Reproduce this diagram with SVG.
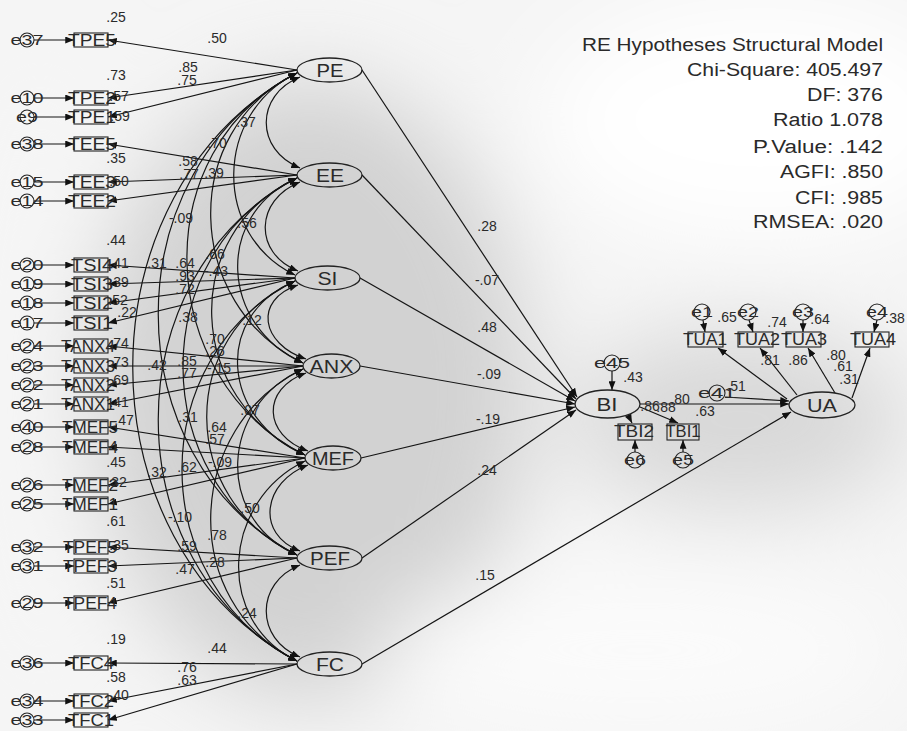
<svg xmlns="http://www.w3.org/2000/svg" width="907" height="731" viewBox="0 0 907 731">
<defs>
<marker id="ah" viewBox="0 0 10 8" refX="10" refY="4" markerWidth="9" markerHeight="7" markerUnits="userSpaceOnUse" orient="auto-start-reverse"><path d="M0,0 L10,4 L0,8 z" fill="#111"/></marker>
<filter id="blur" x="-50%" y="-50%" width="200%" height="200%"><feGaussianBlur stdDeviation="45"/></filter>
<style>
.ln{stroke:#151515;stroke-width:1.2;fill:none}
.arr{marker-end:url(#ah)}
.cov{marker-start:url(#ah);marker-end:url(#ah)}
.box{fill:none;stroke:#222;stroke-width:1.1}
.lat{fill:none;stroke:#222;stroke-width:1.3}
.err{fill:none;stroke:#222;stroke-width:1.1}
text{font-family:"Liberation Sans",Arial,sans-serif;fill:#2a2a2a}
.n{font-size:14px;text-anchor:middle}
.bl{font-size:16px;text-anchor:middle}
.el{font-size:15px;text-anchor:middle}
.lt{font-size:18px;text-anchor:middle}
.st{font-size:18px}
</style>
</defs>
<rect width="907" height="731" fill="#f5f5f5"/>
<g filter="url(#blur)">
<ellipse cx="310" cy="390" rx="220" ry="310" fill="#d2d2d2"/>
<ellipse cx="740" cy="420" rx="170" ry="90" fill="#d8d8d8"/>
<ellipse cx="760" cy="120" rx="220" ry="120" fill="#ffffff"/>
<ellipse cx="640" cy="650" rx="260" ry="80" fill="#fbfbfb"/>
<ellipse cx="40" cy="380" rx="40" ry="330" fill="#f6f6f6"/>
</g>

<g id="connectors">
<line class="ln arr" x1="34" y1="40" x2="74" y2="40"/>
<line class="ln arr" x1="34" y1="98" x2="74" y2="98"/>
<line class="ln arr" x1="34" y1="117" x2="74" y2="117"/>
<line class="ln arr" x1="34" y1="144" x2="74" y2="144"/>
<line class="ln arr" x1="34" y1="182" x2="74" y2="182"/>
<line class="ln arr" x1="34" y1="201" x2="74" y2="201"/>
<line class="ln arr" x1="34" y1="265" x2="74" y2="265"/>
<line class="ln arr" x1="34" y1="284" x2="74" y2="284"/>
<line class="ln arr" x1="34" y1="303" x2="74" y2="303"/>
<line class="ln arr" x1="34" y1="323" x2="74" y2="323"/>
<line class="ln arr" x1="34" y1="346" x2="74" y2="346"/>
<line class="ln arr" x1="34" y1="366" x2="74" y2="366"/>
<line class="ln arr" x1="34" y1="385" x2="74" y2="385"/>
<line class="ln arr" x1="34" y1="404" x2="74" y2="404"/>
<line class="ln arr" x1="34" y1="427" x2="74" y2="427"/>
<line class="ln arr" x1="34" y1="447" x2="74" y2="447"/>
<line class="ln arr" x1="34" y1="485" x2="74" y2="485"/>
<line class="ln arr" x1="34" y1="504" x2="74" y2="504"/>
<line class="ln arr" x1="34" y1="547" x2="74" y2="547"/>
<line class="ln arr" x1="34" y1="566" x2="74" y2="566"/>
<line class="ln arr" x1="34" y1="603" x2="74" y2="603"/>
<line class="ln arr" x1="34" y1="663" x2="74" y2="663"/>
<line class="ln arr" x1="34" y1="701" x2="74" y2="701"/>
<line class="ln arr" x1="34" y1="720" x2="74" y2="720"/>
<line class="ln arr" x1="297" y1="70" x2="108" y2="40"/>
<line class="ln arr" x1="297" y1="70" x2="108" y2="98"/>
<line class="ln arr" x1="297" y1="70" x2="108" y2="117"/>
<line class="ln arr" x1="297" y1="175" x2="108" y2="144"/>
<line class="ln arr" x1="297" y1="175" x2="108" y2="182"/>
<line class="ln arr" x1="297" y1="175" x2="108" y2="201"/>
<line class="ln arr" x1="295" y1="278" x2="108" y2="265"/>
<line class="ln arr" x1="295" y1="278" x2="108" y2="284"/>
<line class="ln arr" x1="295" y1="278" x2="108" y2="303"/>
<line class="ln arr" x1="295" y1="278" x2="108" y2="323"/>
<line class="ln arr" x1="303" y1="366" x2="108" y2="346"/>
<line class="ln arr" x1="303" y1="366" x2="108" y2="366"/>
<line class="ln arr" x1="303" y1="366" x2="108" y2="385"/>
<line class="ln arr" x1="303" y1="366" x2="108" y2="404"/>
<line class="ln arr" x1="305" y1="458" x2="108" y2="427"/>
<line class="ln arr" x1="305" y1="458" x2="108" y2="447"/>
<line class="ln arr" x1="305" y1="458" x2="108" y2="485"/>
<line class="ln arr" x1="305" y1="458" x2="108" y2="504"/>
<line class="ln arr" x1="297" y1="558" x2="108" y2="547"/>
<line class="ln arr" x1="297" y1="558" x2="108" y2="566"/>
<line class="ln arr" x1="297" y1="558" x2="108" y2="603"/>
<line class="ln arr" x1="297" y1="664" x2="108" y2="663"/>
<line class="ln arr" x1="297" y1="664" x2="108" y2="701"/>
<line class="ln arr" x1="297" y1="664" x2="108" y2="720"/>
<path class="ln cov" d="M300,77 C255,95 255,150 300,168"/>
<path class="ln cov" d="M300,182 C255,200 253,253 298,271"/>
<path class="ln cov" d="M298,285 C253,300 261,344 306,359"/>
<path class="ln cov" d="M306,373 C261,389 263,435 308,451"/>
<path class="ln cov" d="M308,465 C263,482 255,534 300,551"/>
<path class="ln cov" d="M300,565 C255,583 255,639 300,657"/>
<path class="ln cov" d="M297,73 C214,113 212,235 295,275"/>
<path class="ln cov" d="M297,178 C214,215 220,326 303,363"/>
<path class="ln cov" d="M295,281 C212,316 222,420 305,455"/>
<path class="ln cov" d="M303,369 C220,406 214,518 297,555"/>
<path class="ln cov" d="M305,461 C222,501 214,621 297,661"/>
<path class="ln cov" d="M297,73 C178,131 184,305 303,363"/>
<path class="ln cov" d="M297,178 C178,233 186,400 305,455"/>
<path class="ln cov" d="M295,281 C176,336 178,500 297,555"/>
<path class="ln cov" d="M303,369 C184,427 178,603 297,661"/>
<path class="ln cov" d="M297,73 C145,149 153,379 305,455"/>
<path class="ln cov" d="M297,178 C145,253 145,480 297,555"/>
<path class="ln cov" d="M295,281 C143,357 145,585 297,661"/>
<path class="ln cov" d="M297,73 C112,169 112,459 297,555"/>
<path class="ln cov" d="M297,178 C112,275 112,564 297,661"/>
<path class="ln cov" d="M297,73 C78,191 78,543 297,661"/>
<line class="ln arr" x1="362" y1="70" x2="577" y2="397"/>
<line class="ln arr" x1="362" y1="175" x2="576" y2="399"/>
<line class="ln arr" x1="360" y1="278" x2="575" y2="401"/>
<line class="ln arr" x1="360" y1="366" x2="575" y2="404"/>
<line class="ln arr" x1="361" y1="458" x2="575" y2="407"/>
<line class="ln arr" x1="362" y1="558" x2="576" y2="410"/>
<line class="ln arr" x1="362" y1="664" x2="791" y2="412"/>
<line class="ln arr" x1="640" y1="404" x2="789" y2="404"/>
<line class="ln arr" x1="725" y1="397" x2="789" y2="401"/>
<line class="ln arr" x1="612" y1="371" x2="612" y2="390"/>
<line class="ln arr" x1="628" y1="415" x2="632" y2="423"/>
<line class="ln arr" x1="640" y1="407" x2="678" y2="423"/>
<line class="ln arr" x1="635" y1="452" x2="635" y2="440"/>
<line class="ln arr" x1="683" y1="452" x2="683" y2="440"/>
<line class="ln arr" x1="787" y1="399" x2="718" y2="348"/>
<line class="ln arr" x1="797" y1="395" x2="760" y2="348"/>
<line class="ln arr" x1="835" y1="393" x2="808" y2="348"/>
<line class="ln arr" x1="852" y1="398" x2="870" y2="348"/>
<line class="ln arr" x1="703" y1="320" x2="705" y2="332"/>
<line class="ln arr" x1="749" y1="320" x2="753" y2="332"/>
<line class="ln arr" x1="803" y1="320" x2="803" y2="332"/>
<line class="ln arr" x1="877" y1="320" x2="874" y2="332"/>
</g>

<g id="e37"><circle class="err" cx="27" cy="40" r="7"/><text class="el" x="27" y="45" textLength="33" lengthAdjust="spacingAndGlyphs">e37</text></g>
<g id="e10"><circle class="err" cx="27" cy="98" r="7"/><text class="el" x="27" y="103" textLength="33" lengthAdjust="spacingAndGlyphs">e10</text></g>
<g id="e9"><circle class="err" cx="27" cy="117" r="7"/><text class="el" x="27" y="122" textLength="22" lengthAdjust="spacingAndGlyphs">e9</text></g>
<g id="e38"><circle class="err" cx="27" cy="144" r="7"/><text class="el" x="27" y="149" textLength="33" lengthAdjust="spacingAndGlyphs">e38</text></g>
<g id="e15"><circle class="err" cx="27" cy="182" r="7"/><text class="el" x="27" y="187" textLength="33" lengthAdjust="spacingAndGlyphs">e15</text></g>
<g id="e14"><circle class="err" cx="27" cy="201" r="7"/><text class="el" x="27" y="206" textLength="33" lengthAdjust="spacingAndGlyphs">e14</text></g>
<g id="e20"><circle class="err" cx="27" cy="265" r="7"/><text class="el" x="27" y="270" textLength="33" lengthAdjust="spacingAndGlyphs">e20</text></g>
<g id="e19"><circle class="err" cx="27" cy="284" r="7"/><text class="el" x="27" y="289" textLength="33" lengthAdjust="spacingAndGlyphs">e19</text></g>
<g id="e18"><circle class="err" cx="27" cy="303" r="7"/><text class="el" x="27" y="308" textLength="33" lengthAdjust="spacingAndGlyphs">e18</text></g>
<g id="e17"><circle class="err" cx="27" cy="323" r="7"/><text class="el" x="27" y="328" textLength="33" lengthAdjust="spacingAndGlyphs">e17</text></g>
<g id="e24"><circle class="err" cx="27" cy="346" r="7"/><text class="el" x="27" y="351" textLength="33" lengthAdjust="spacingAndGlyphs">e24</text></g>
<g id="e23"><circle class="err" cx="27" cy="366" r="7"/><text class="el" x="27" y="371" textLength="33" lengthAdjust="spacingAndGlyphs">e23</text></g>
<g id="e22"><circle class="err" cx="27" cy="385" r="7"/><text class="el" x="27" y="390" textLength="33" lengthAdjust="spacingAndGlyphs">e22</text></g>
<g id="e21"><circle class="err" cx="27" cy="404" r="7"/><text class="el" x="27" y="409" textLength="33" lengthAdjust="spacingAndGlyphs">e21</text></g>
<g id="e40"><circle class="err" cx="27" cy="427" r="7"/><text class="el" x="27" y="432" textLength="33" lengthAdjust="spacingAndGlyphs">e40</text></g>
<g id="e28"><circle class="err" cx="27" cy="447" r="7"/><text class="el" x="27" y="452" textLength="33" lengthAdjust="spacingAndGlyphs">e28</text></g>
<g id="e26"><circle class="err" cx="27" cy="485" r="7"/><text class="el" x="27" y="490" textLength="33" lengthAdjust="spacingAndGlyphs">e26</text></g>
<g id="e25"><circle class="err" cx="27" cy="504" r="7"/><text class="el" x="27" y="509" textLength="33" lengthAdjust="spacingAndGlyphs">e25</text></g>
<g id="e32"><circle class="err" cx="27" cy="547" r="7"/><text class="el" x="27" y="552" textLength="33" lengthAdjust="spacingAndGlyphs">e32</text></g>
<g id="e31"><circle class="err" cx="27" cy="566" r="7"/><text class="el" x="27" y="571" textLength="33" lengthAdjust="spacingAndGlyphs">e31</text></g>
<g id="e29"><circle class="err" cx="27" cy="603" r="7"/><text class="el" x="27" y="608" textLength="33" lengthAdjust="spacingAndGlyphs">e29</text></g>
<g id="e36"><circle class="err" cx="27" cy="663" r="7"/><text class="el" x="27" y="668" textLength="33" lengthAdjust="spacingAndGlyphs">e36</text></g>
<g id="e34"><circle class="err" cx="27" cy="701" r="7"/><text class="el" x="27" y="706" textLength="33" lengthAdjust="spacingAndGlyphs">e34</text></g>
<g id="e33"><circle class="err" cx="27" cy="720" r="7"/><text class="el" x="27" y="725" textLength="33" lengthAdjust="spacingAndGlyphs">e33</text></g>

<g id="TPE5"><rect class="box" x="74" y="33" width="34" height="14"/><text class="bl" x="92" y="46" textLength="48" lengthAdjust="spacingAndGlyphs">TPE5</text></g>
<g id="TPE2"><rect class="box" x="74" y="91" width="34" height="14"/><text class="bl" x="92" y="104" textLength="48" lengthAdjust="spacingAndGlyphs">TPE2</text></g>
<g id="TPE1"><rect class="box" x="74" y="110" width="34" height="14"/><text class="bl" x="92" y="123" textLength="48" lengthAdjust="spacingAndGlyphs">TPE1</text></g>
<g id="TEE5"><rect class="box" x="74" y="137" width="34" height="14"/><text class="bl" x="92" y="150" textLength="48" lengthAdjust="spacingAndGlyphs">TEE5</text></g>
<g id="TEE3"><rect class="box" x="74" y="175" width="34" height="14"/><text class="bl" x="92" y="188" textLength="48" lengthAdjust="spacingAndGlyphs">TEE3</text></g>
<g id="TEE2"><rect class="box" x="74" y="194" width="34" height="14"/><text class="bl" x="92" y="207" textLength="48" lengthAdjust="spacingAndGlyphs">TEE2</text></g>
<g id="TSI4"><rect class="box" x="74" y="258" width="34" height="14"/><text class="bl" x="92" y="271" textLength="42" lengthAdjust="spacingAndGlyphs">TSI4</text></g>
<g id="TSI3"><rect class="box" x="74" y="277" width="34" height="14"/><text class="bl" x="92" y="290" textLength="42" lengthAdjust="spacingAndGlyphs">TSI3</text></g>
<g id="TSI2"><rect class="box" x="74" y="296" width="34" height="14"/><text class="bl" x="92" y="309" textLength="42" lengthAdjust="spacingAndGlyphs">TSI2</text></g>
<g id="TSI1"><rect class="box" x="74" y="316" width="34" height="14"/><text class="bl" x="92" y="329" textLength="42" lengthAdjust="spacingAndGlyphs">TSI1</text></g>
<g id="TANX4"><rect class="box" x="74" y="339" width="34" height="14"/><text class="bl" x="88" y="352" textLength="54" lengthAdjust="spacingAndGlyphs">TANX4</text></g>
<g id="TANX3"><rect class="box" x="74" y="359" width="34" height="14"/><text class="bl" x="88" y="372" textLength="54" lengthAdjust="spacingAndGlyphs">TANX3</text></g>
<g id="TANX2"><rect class="box" x="74" y="378" width="34" height="14"/><text class="bl" x="88" y="391" textLength="54" lengthAdjust="spacingAndGlyphs">TANX2</text></g>
<g id="TANX1"><rect class="box" x="74" y="397" width="34" height="14"/><text class="bl" x="88" y="410" textLength="54" lengthAdjust="spacingAndGlyphs">TANX1</text></g>
<g id="TMEF5"><rect class="box" x="74" y="420" width="34" height="14"/><text class="bl" x="90" y="433" textLength="56" lengthAdjust="spacingAndGlyphs">TMEF5</text></g>
<g id="TMEF4"><rect class="box" x="74" y="440" width="34" height="14"/><text class="bl" x="90" y="453" textLength="56" lengthAdjust="spacingAndGlyphs">TMEF4</text></g>
<g id="TMEF2"><rect class="box" x="74" y="478" width="34" height="14"/><text class="bl" x="90" y="491" textLength="56" lengthAdjust="spacingAndGlyphs">TMEF2</text></g>
<g id="TMEF1"><rect class="box" x="74" y="497" width="34" height="14"/><text class="bl" x="90" y="510" textLength="56" lengthAdjust="spacingAndGlyphs">TMEF1</text></g>
<g id="TPEF5"><rect class="box" x="74" y="540" width="34" height="14"/><text class="bl" x="90" y="553" textLength="54" lengthAdjust="spacingAndGlyphs">TPEF5</text></g>
<g id="TPEF3"><rect class="box" x="74" y="559" width="34" height="14"/><text class="bl" x="90" y="572" textLength="54" lengthAdjust="spacingAndGlyphs">TPEF3</text></g>
<g id="TPEF4"><rect class="box" x="74" y="596" width="34" height="14"/><text class="bl" x="90" y="609" textLength="54" lengthAdjust="spacingAndGlyphs">TPEF4</text></g>
<g id="TFC4"><rect class="box" x="74" y="656" width="34" height="14"/><text class="bl" x="91" y="669" textLength="46" lengthAdjust="spacingAndGlyphs">TFC4</text></g>
<g id="TFC2"><rect class="box" x="74" y="694" width="34" height="14"/><text class="bl" x="91" y="707" textLength="46" lengthAdjust="spacingAndGlyphs">TFC2</text></g>
<g id="TFC1"><rect class="box" x="74" y="713" width="34" height="14"/><text class="bl" x="91" y="726" textLength="46" lengthAdjust="spacingAndGlyphs">TFC1</text></g>

<g id="PE"><ellipse class="lat" cx="329.5" cy="70" rx="32.5" ry="12"/><text class="lt" x="330" y="76.5" textLength="27" lengthAdjust="spacingAndGlyphs">PE</text></g>
<g id="EE"><ellipse class="lat" cx="329.5" cy="175" rx="32.5" ry="12"/><text class="lt" x="330" y="181.5" textLength="28" lengthAdjust="spacingAndGlyphs">EE</text></g>
<g id="SI"><ellipse class="lat" cx="327.5" cy="278" rx="32.5" ry="12"/><text class="lt" x="327.5" y="284.5" textLength="20" lengthAdjust="spacingAndGlyphs">SI</text></g>
<g id="ANX"><ellipse class="lat" cx="331.5" cy="366" rx="28.5" ry="12"/><text class="lt" x="331.5" y="372.5" textLength="44" lengthAdjust="spacingAndGlyphs">ANX</text></g>
<g id="MEF"><ellipse class="lat" cx="333" cy="458" rx="28" ry="12"/><text class="lt" x="333" y="464.5" textLength="42" lengthAdjust="spacingAndGlyphs">MEF</text></g>
<g id="PEF"><ellipse class="lat" cx="329.5" cy="558" rx="32.5" ry="12"/><text class="lt" x="330" y="564.5" textLength="40" lengthAdjust="spacingAndGlyphs">PEF</text></g>
<g id="FC"><ellipse class="lat" cx="329.5" cy="664" rx="32.5" ry="12"/><text class="lt" x="330" y="670.5" textLength="28" lengthAdjust="spacingAndGlyphs">FC</text></g>
<g id="BI"><ellipse class="lat" cx="607.5" cy="404" rx="32.5" ry="14"/><text class="lt" x="607" y="410.5" textLength="21" lengthAdjust="spacingAndGlyphs">BI</text></g>
<g id="UA"><ellipse class="lat" cx="822" cy="405" rx="33" ry="13"/><text class="lt" x="822" y="411.5" textLength="30" lengthAdjust="spacingAndGlyphs">UA</text></g>

<g id="e45"><circle class="err" cx="612" cy="363" r="8"/><text class="el" x="612" y="368" textLength="36" lengthAdjust="spacingAndGlyphs">e45</text></g>
<g id="TBI2"><rect class="box" x="618" y="424" width="34" height="16"/><text class="bl" x="634" y="437" textLength="40" lengthAdjust="spacingAndGlyphs">TBI2</text></g>
<g id="TBI1"><rect class="box" x="667" y="424" width="32" height="16"/><text class="bl" x="683" y="437" textLength="35" lengthAdjust="spacingAndGlyphs">TBI1</text></g>
<g id="e6"><circle class="err" cx="635" cy="460" r="8"/><text class="el" x="635" y="465" textLength="22" lengthAdjust="spacingAndGlyphs">e6</text></g>
<g id="e5"><circle class="err" cx="683" cy="460" r="8"/><text class="el" x="683" y="465" textLength="22" lengthAdjust="spacingAndGlyphs">e5</text></g>
<g id="e41"><circle class="err" cx="717" cy="393" r="8"/><text class="el" x="717" y="398" textLength="38" lengthAdjust="spacingAndGlyphs">e41</text></g>
<g id="TUA1"><rect class="box" x="688" y="332" width="35" height="15"/><text class="bl" x="705" y="345" textLength="44" lengthAdjust="spacingAndGlyphs">TUA1</text></g>
<g id="TUA2"><rect class="box" x="738" y="332" width="35" height="15"/><text class="bl" x="757" y="345" textLength="46" lengthAdjust="spacingAndGlyphs">TUA2</text></g>
<g id="TUA3"><rect class="box" x="786" y="332" width="35" height="15"/><text class="bl" x="804" y="345" textLength="46" lengthAdjust="spacingAndGlyphs">TUA3</text></g>
<g id="TUA4"><rect class="box" x="855" y="332" width="34" height="15"/><text class="bl" x="873" y="345" textLength="46" lengthAdjust="spacingAndGlyphs">TUA4</text></g>
<g id="e1"><circle class="err" cx="702" cy="312" r="8"/><text class="el" x="702" y="317" textLength="22" lengthAdjust="spacingAndGlyphs">e1</text></g>
<g id="e2"><circle class="err" cx="748" cy="312" r="8"/><text class="el" x="748" y="317" textLength="22" lengthAdjust="spacingAndGlyphs">e2</text></g>
<g id="e3"><circle class="err" cx="803" cy="312" r="8"/><text class="el" x="803" y="317" textLength="22" lengthAdjust="spacingAndGlyphs">e3</text></g>
<g id="e4"><circle class="err" cx="877" cy="312" r="8"/><text class="el" x="877" y="317" textLength="22" lengthAdjust="spacingAndGlyphs">e4</text></g>

<g id="labels">
<text class="n" x="116" y="22">.25</text>
<text class="n" x="116" y="80">.73</text>
<text class="n" x="119" y="101">.57</text>
<text class="n" x="120" y="121">.59</text>
<text class="n" x="116" y="163">.35</text>
<text class="n" x="119" y="186">.50</text>
<text class="n" x="116" y="245">.44</text>
<text class="n" x="119" y="268">.41</text>
<text class="n" x="119" y="287">.39</text>
<text class="n" x="118" y="305">.52</text>
<text class="n" x="127" y="317">.22</text>
<text class="n" x="119" y="348">.74</text>
<text class="n" x="119" y="367">.73</text>
<text class="n" x="119" y="385">.69</text>
<text class="n" x="119" y="407">.41</text>
<text class="n" x="124" y="425">.47</text>
<text class="n" x="116" y="467">.45</text>
<text class="n" x="117" y="487">.32</text>
<text class="n" x="116" y="526">.61</text>
<text class="n" x="119" y="550">.35</text>
<text class="n" x="116" y="588">.51</text>
<text class="n" x="116" y="644">.19</text>
<text class="n" x="116" y="682">.58</text>
<text class="n" x="119" y="700">.40</text>

<text class="n" x="217" y="43">.50</text>
<text class="n" x="188" y="72">.85</text>
<text class="n" x="187" y="85">.75</text>
<text class="n" x="246" y="127">.37</text>
<text class="n" x="217" y="148">.70</text>
<text class="n" x="188" y="166">.58</text>
<text class="n" x="189" y="179">.77</text>
<text class="n" x="214" y="178">.39</text>
<text class="n" x="181" y="223">-.09</text>
<text class="n" x="247" y="228">.56</text>
<text class="n" x="157" y="268">.31</text>
<text class="n" x="185" y="268">.64</text>
<text class="n" x="185" y="281">.93</text>
<text class="n" x="215" y="259">.66</text>
<text class="n" x="216" y="276">-.43</text>
<text class="n" x="185" y="294">.72</text>
<text class="n" x="188" y="322">.38</text>
<text class="n" x="252" y="325">.12</text>
<text class="n" x="157" y="370">.42</text>
<text class="n" x="187" y="366">.85</text>
<text class="n" x="187" y="378">.77</text>
<text class="n" x="215" y="344">.70</text>
<text class="n" x="215" y="356">.26</text>
<text class="n" x="219" y="373">-.15</text>
<text class="n" x="250" y="415">.07</text>
<text class="n" x="188" y="422">.31</text>
<text class="n" x="217" y="432">.64</text>
<text class="n" x="215" y="444">.57</text>
<text class="n" x="157" y="477">.32</text>
<text class="n" x="187" y="472">.62</text>
<text class="n" x="220" y="467">-.09</text>
<text class="n" x="250" y="513">.50</text>
<text class="n" x="180" y="522">-.10</text>
<text class="n" x="217" y="540">.78</text>
<text class="n" x="187" y="551">.59</text>
<text class="n" x="215" y="567">.28</text>
<text class="n" x="185" y="574">.47</text>
<text class="n" x="247" y="618">.24</text>
<text class="n" x="217" y="653">.44</text>
<text class="n" x="187" y="672">.76</text>
<text class="n" x="187" y="685">.63</text>

<text class="n" x="487" y="231">.28</text>
<text class="n" x="487" y="285">-.07</text>
<text class="n" x="487" y="332">.48</text>
<text class="n" x="489" y="379">-.09</text>
<text class="n" x="488" y="424">-.19</text>
<text class="n" x="487" y="475">.24</text>
<text class="n" x="485" y="580">.15</text>

<text class="n" x="633" y="382">.43</text>
<text class="n" x="680" y="404">.80</text>
<text class="n" x="650" y="411">.86</text>
<text class="n" x="666" y="412">.88</text>
<text class="n" x="705" y="416">.63</text>
<text class="n" x="736" y="391">.51</text>
<text class="n" x="727" y="322">.65</text>
<text class="n" x="777" y="327">.74</text>
<text class="n" x="820" y="324">.64</text>
<text class="n" x="895" y="323">.38</text>
<text class="n" x="770" y="365">.81</text>
<text class="n" x="798" y="365">.86</text>
<text class="n" x="836" y="360">.80</text>
<text class="n" x="843" y="371">.61</text>
<text class="n" x="849" y="384">.31</text>
</g>

<g id="fit-stats">
<text class="st" x="582" y="51" textLength="301" lengthAdjust="spacingAndGlyphs">RE Hypotheses Structural Model</text>
<text class="st" x="687" y="76" textLength="196" lengthAdjust="spacingAndGlyphs">Chi-Square:  405.497</text>
<text class="st" x="807" y="101" textLength="76" lengthAdjust="spacingAndGlyphs">DF:  376</text>
<text class="st" x="773" y="126" textLength="110" lengthAdjust="spacingAndGlyphs">Ratio  1.078</text>
<text class="st" x="753" y="153" textLength="130" lengthAdjust="spacingAndGlyphs">P.Value:  .142</text>
<text class="st" x="780" y="178" textLength="103" lengthAdjust="spacingAndGlyphs">AGFI:  .850</text>
<text class="st" x="795" y="204" textLength="88" lengthAdjust="spacingAndGlyphs">CFI:  .985</text>
<text class="st" x="753" y="228" textLength="130" lengthAdjust="spacingAndGlyphs">RMSEA:  .020</text>
</g>
</svg>
